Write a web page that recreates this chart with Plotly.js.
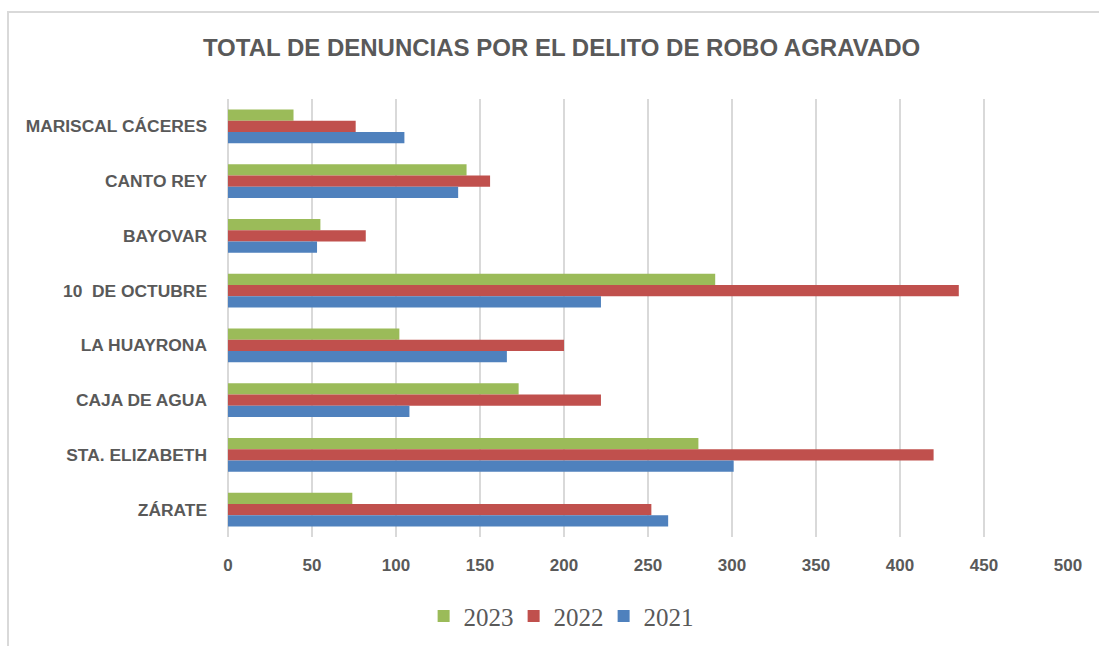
<!DOCTYPE html>
<html>
<head>
<meta charset="utf-8">
<script src="https://cdn.plot.ly/plotly-3.0.1.min.js"></script>
<style>
  html, body { margin: 0; padding: 0; background: #fff; }
  #wrap { position: relative; width: 1099px; height: 646px; overflow: hidden; }
  #frame { position: absolute; left: 7px; top: 11px; width: 1200px; height: 634px; border-left: 2px solid #d9d9d9; border-top: 2px solid #d9d9d9; border-bottom: 2px solid #d9d9d9; pointer-events: none; z-index: 5; }
  #chart { position: absolute; left: 0; top: 0; width: 1099px; height: 646px; }
</style>
</head>
<body>
<div id="wrap">
  <div id="chart"></div>
  <div id="frame"></div>
</div>
<script>
const categories = ["MARISCAL CÁCERES", "CANTO REY", "BAYOVAR", "10  DE OCTUBRE", "LA HUAYRONA", "CAJA DE AGUA", "STA. ELIZABETH", "ZÁRATE"];
const values2021 = [105, 137, 53, 222, 166, 108, 301, 262];
const values2022 = [76, 156, 82, 435, 200, 222, 420, 252];
const values2023 = [39, 142, 55, 290, 102, 173, 280, 74];
const tickValues = [0, 50, 100, 150, 200, 250, 300, 350, 400, 450, 500];

const sans = '"Liberation Sans", Arial, sans-serif';
const gray = '#595959';

const traces = [
  { name: '2023', values: values2023, color: '#9BBB59' },
  { name: '2022', values: values2022, color: '#C0504D' },
  { name: '2021', values: values2021, color: '#4F81BD' }
].map(s => ({
  type: 'bar',
  orientation: 'h',
  name: s.name,
  x: s.values,
  y: categories,
  marker: { color: s.color, line: { width: 0 } },
  hoverinfo: 'x+y+name'
}));

const layout = {
  width: 1099,
  height: 646,
  margin: { l: 227.5, r: 31, t: 98.6, b: 108.5, pad: 0, autoexpand: false },
  paper_bgcolor: '#ffffff',
  plot_bgcolor: '#ffffff',
  barmode: 'group',
  bargap: 0.38,
  bargroupgap: 0,
  title: {
    text: '<b>TOTAL DE DENUNCIAS POR EL DELITO DE ROBO AGRAVADO</b>',
    font: { family: sans, size: 24, color: gray },
    x: 0.511, xanchor: 'center',
    y: 0.926, yanchor: 'middle'
  },
  xaxis: {
    range: [0, 500],
    tickvals: tickValues,
    ticktext: tickValues.map(v => '<b>' + v + '</b>'),
    showgrid: true,
    gridcolor: '#d9d9d9',
    gridwidth: 1.5,
    zeroline: true,
    zerolinecolor: '#d9d9d9',
    zerolinewidth: 1.5,
    showline: false,
    ticks: '',
    ticklabelstandoff: 16,
    tickfont: { family: sans, size: 17, color: gray },
    fixedrange: true
  },
  yaxis: {
    type: 'category',
    autorange: 'reversed',
    ticktext: categories.map(c => '<b>' + c + '</b>'),
    tickvals: categories,
    showgrid: false,
    zeroline: false,
    showline: false,
    ticks: '',
    ticklabelstandoff: 20,
    tickfont: { family: sans, size: 17.4, color: gray },
    fixedrange: true
  },
  legend: {
    orientation: 'h',
    x: 0.3936, xanchor: 'center',
    y: -0.181, yanchor: 'middle',
    traceorder: 'normal',
    font: { family: '"Liberation Serif", "DejaVu Serif", serif', size: 25, color: gray },
    itemwidth: 30,
    entrywidth: 45,
    entrywidthmode: 'pixels',
    tracegroupgap: 0
  },
  showlegend: true
};

Plotly.newPlot('chart', traces, layout, { displayModeBar: false, staticPlot: true });
</script>
</body>
</html>
